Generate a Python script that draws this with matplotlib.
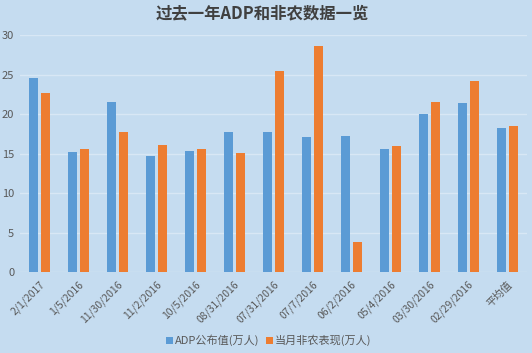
import matplotlib
matplotlib.use("Agg")
import matplotlib.pyplot as plt
import numpy as np

plt.rcParams["font.family"] = ["Noto Sans CJK SC", "DejaVu Sans"]

# ── Data ──────────────────────────────────────────────────────────────────────
categories = ["2/1/2017", "1/5/2016", "11/30/2016", "11/2/2016", "10/5/2016",
              "08/31/2016", "07/31/2016", "07/7/2016", "06/2/2016", "05/4/2016",
              "03/30/2016", "02/29/2016", "平均值"]
adp = [24.6, 15.2, 21.6, 14.7, 15.4, 17.7, 17.8, 17.1, 17.3, 15.6, 20.0, 21.4, 18.2]
nfp = [22.7, 15.6, 17.8, 16.1, 15.6, 15.1, 25.5, 28.7, 3.8, 16.0, 21.5, 24.2, 18.5]
series_names = ["ADP公布值(万人)", "当月非农表现(万人)"]

BG = "#c5dcf0"
BLUE = "#5b9bd5"
ORANGE = "#ed7d31"
TXT = "#595959"

fig = plt.figure(figsize=(5.32, 3.53), dpi=100)
fig.patch.set_facecolor(BG)
ax = fig.add_axes([0.037, 0.229, 0.953, 0.671])
ax.set_facecolor(BG)

x = np.arange(len(categories))
w = 0.23
ax.bar(x - 0.15, adp, w, color=BLUE, label=series_names[0], zorder=3)
ax.bar(x + 0.15, nfp, w, color=ORANGE, label=series_names[1], zorder=3)

ax.set_xlim(-0.5, len(categories) - 0.5)
ax.set_ylim(0, 30)
ax.set_yticks(range(0, 31, 5))
ax.yaxis.grid(True, color="#d8e7f5", linewidth=1, zorder=0)
for s in ax.spines.values():
    s.set_visible(False)
ax.tick_params(axis="both", length=0, colors=TXT)
ax.tick_params(axis="y", pad=4, labelsize=8)
ax.set_xticks(x)
ax.set_xticklabels(categories, rotation=45, ha="right", rotation_mode="anchor",
                   fontsize=7.5, color=TXT)
ax.tick_params(axis="x", pad=5)

fig.text(0.493, 0.963, "过去一年ADP和非农数据一览", ha="center", va="center",
         fontsize=11.8, fontweight="bold", color="#404040")

fig.legend(loc="center", bbox_to_anchor=(0.505, 0.035), ncol=2, frameon=False,
           fontsize=8, handlelength=0.6, handleheight=0.6, handletextpad=0.2,
           columnspacing=0.6, labelcolor=TXT)

fig.savefig("out.png", dpi=100, facecolor=BG)
